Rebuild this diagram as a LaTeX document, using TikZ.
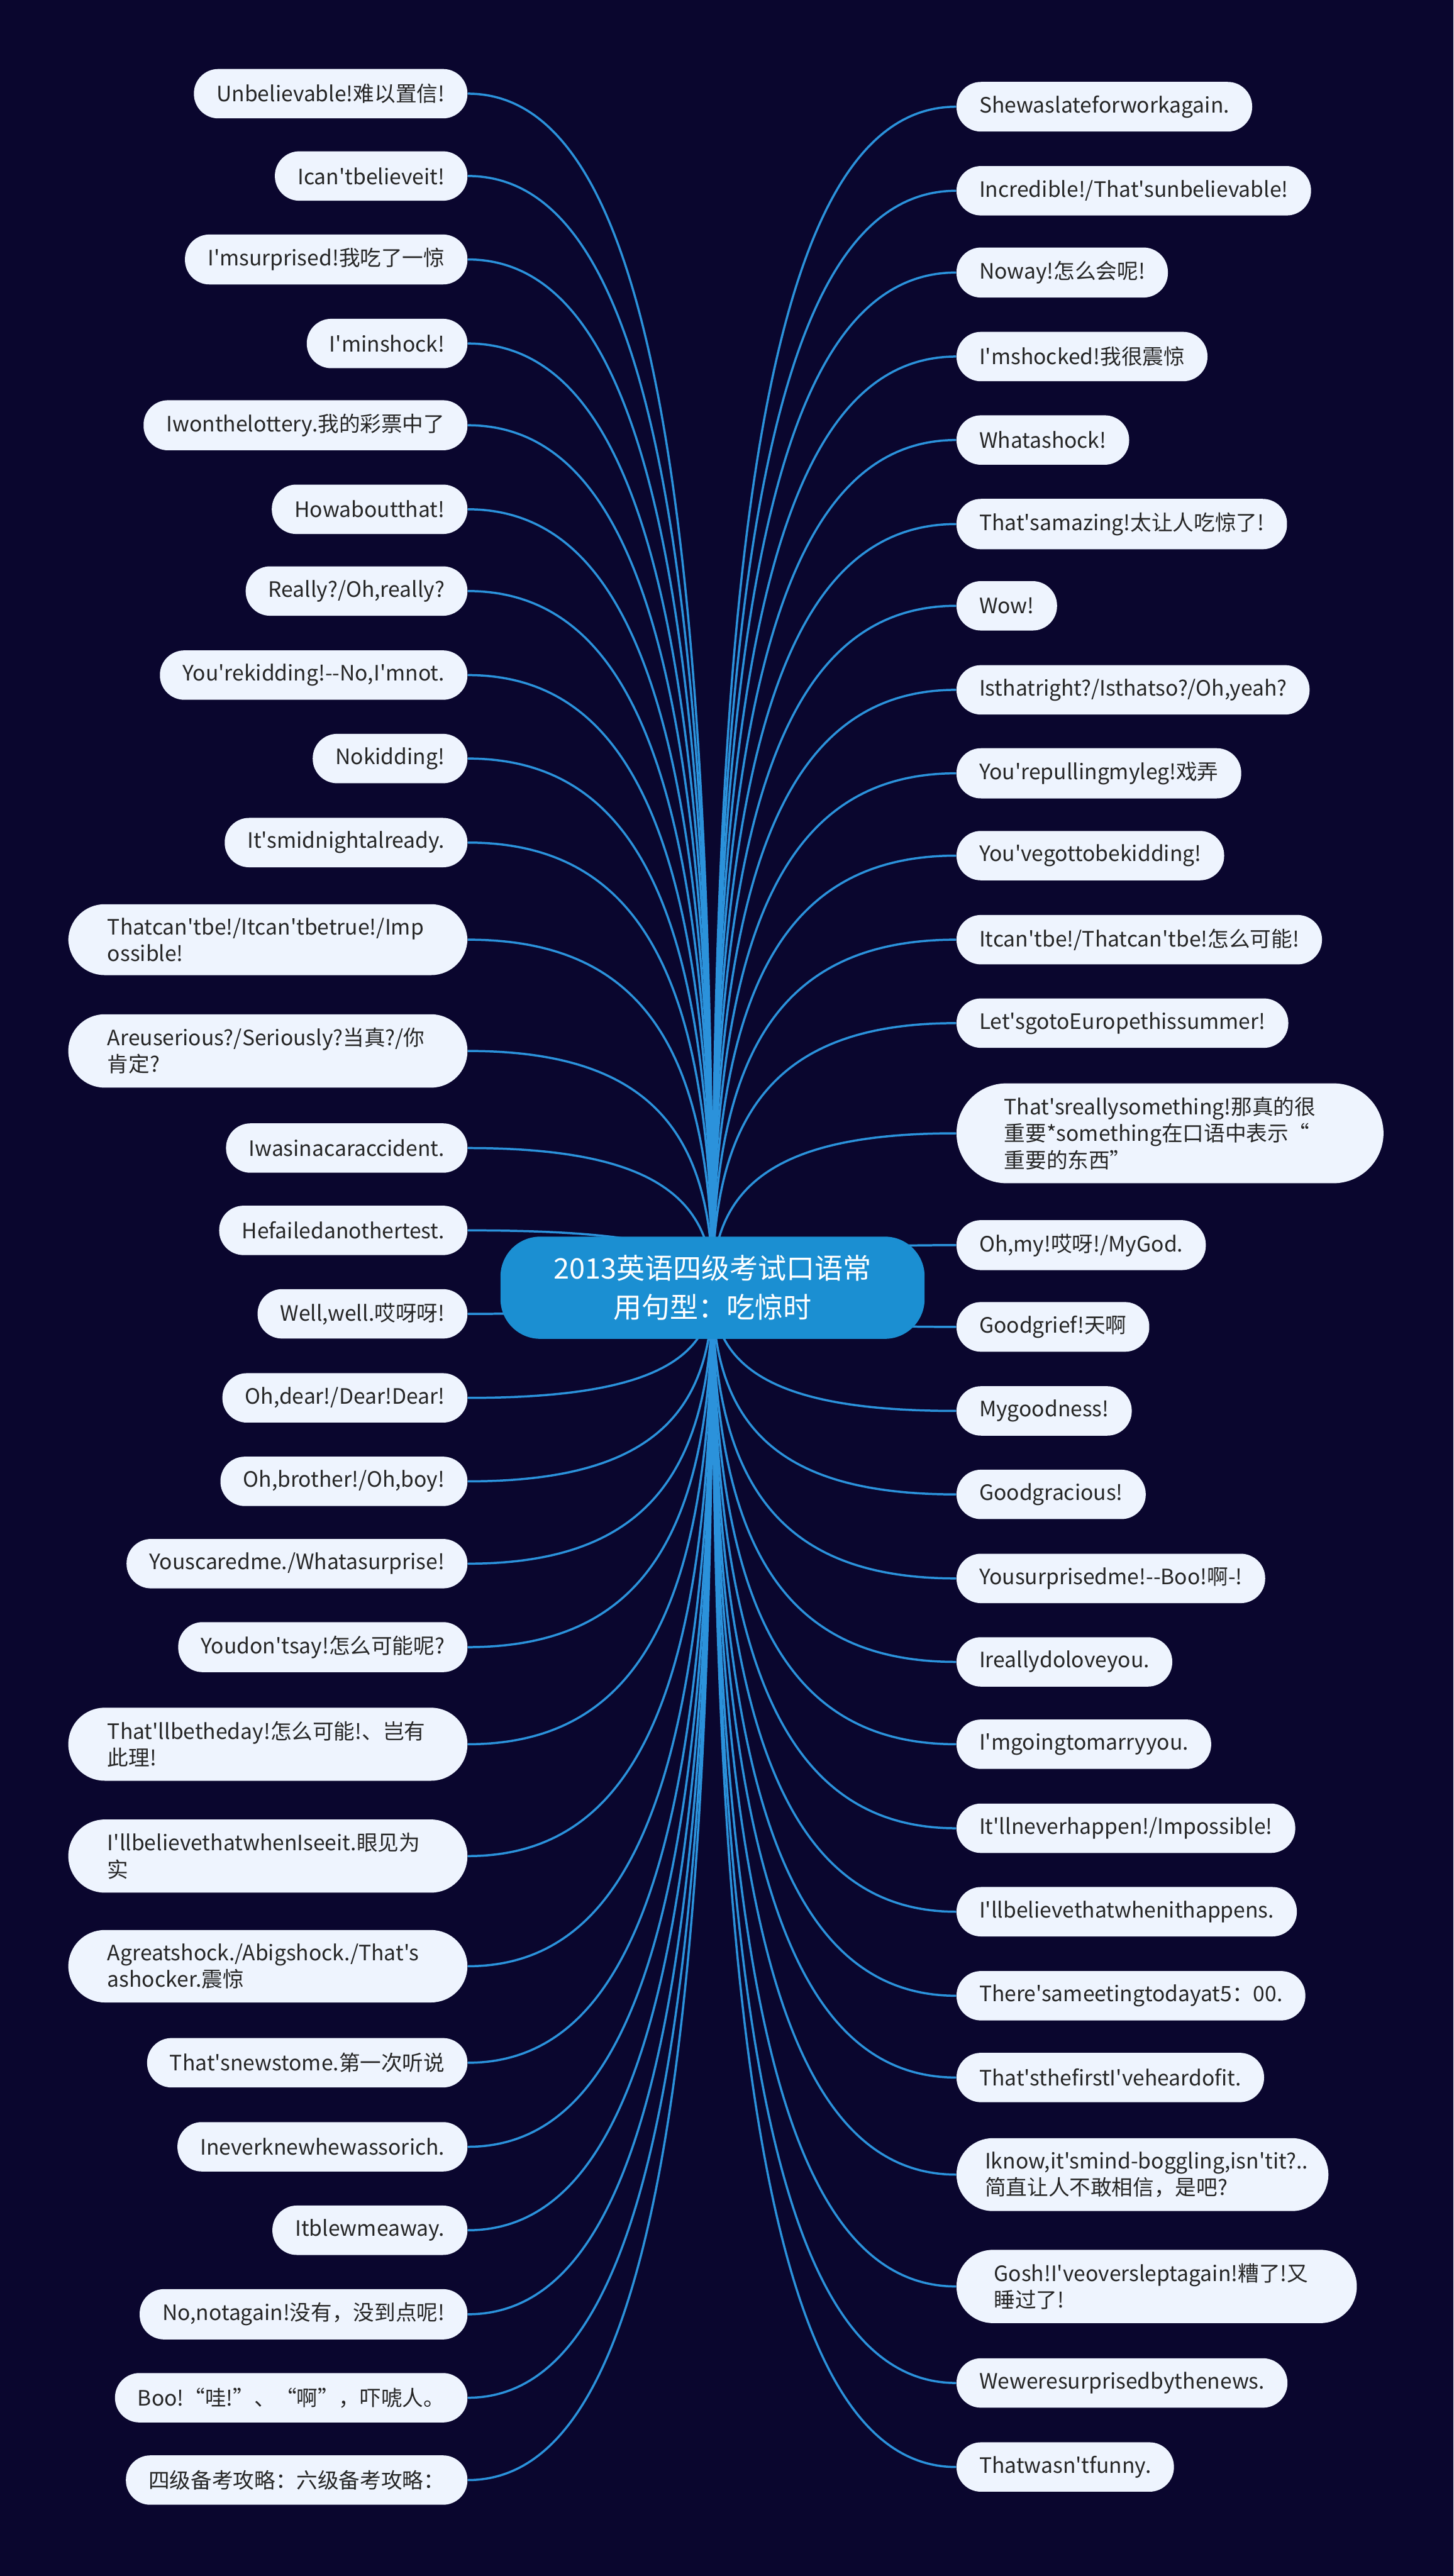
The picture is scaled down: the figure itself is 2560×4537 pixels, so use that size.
\documentclass[tikz,border=0pt]{standalone}
\usepackage{fontspec}
\setmainfont{Noto Sans CJK SC}[Ligatures=TeXOff]
\usetikzlibrary{calc}
\usepackage{xcolor}
\definecolor{nightbg}{RGB}{10, 6, 46}
\definecolor{leaffill}{RGB}{238, 244, 254}
\definecolor{leaftext}{RGB}{38, 38, 38}
\definecolor{rootfill}{RGB}{27, 143, 210}
\definecolor{linkblue}{RGB}{43, 146, 219}

\pgfdeclarelayer{bg}
\pgfdeclarelayer{links}
\pgfsetlayers{bg,links,main}

\begin{document}
\begin{tikzpicture}[x=0.1mm, y=-0.1mm,
    leaf/.style={fill=leaffill, text=leaftext, rounded corners=4.3mm,
        minimum height=8.7mm, inner xsep=4mm, inner ysep=2.4mm,
        font=\fontsize{10.6pt}{13.3pt}\selectfont},
    lleaf/.style={leaf, anchor=east},
    rleaf/.style={leaf, anchor=west},
    wide/.style={text width=#1, align=left, rounded corners=6.4mm},
    link/.style={draw=linkblue, line width=1.1pt}]

    \useasboundingbox (0,0) rectangle (2560,4537);
    \begin{pgfonlayer}{bg}
        \fill[nightbg] (0,0) rectangle (2560,4537);
    \end{pgfonlayer}

    % ==========================================================
    % tema central
    % ==========================================================
    \node[fill=rootfill, text=white, rounded corners=7mm, align=center,
          minimum width=74.7mm, minimum height=18mm,
          font=\fontsize{14.2pt}{19.5pt}\selectfont] (root) at (1255,2268)
         {2013英语四级考试口语常\\用句型：吃惊时};

    % ==========================================================
    % rama izquierda
    % ==========================================================
    \node[lleaf] (L1)  at (824,165)  {Unbelievable!难以置信!};
    \node[lleaf] (L2)  at (824,310)  {Ican'tbelieveit!};
    \node[lleaf] (L3)  at (824,457)  {I'msurprised!我吃了一惊};
    \node[lleaf] (L4)  at (824,605)  {I'minshock!};
    \node[lleaf] (L5)  at (824,749)  {Iwonthelottery.我的彩票中了};
    \node[lleaf] (L6)  at (824,897)  {Howaboutthat!};
    \node[lleaf] (L7)  at (824,1041) {Really?/Oh,really?};
    \node[lleaf] (L8)  at (824,1189) {You'rekidding!--No,I'mnot.};
    \node[lleaf] (L9)  at (824,1336) {Nokidding!};
    \node[lleaf] (L10) at (824,1484) {It'smidnightalready.};
    \node[lleaf, wide=56.5mm, inner xsep=6.9mm] (L11) at (824,1655)
         {Thatcan'tbe!/Itcan'tbetrue!/Imp\\ossible!};
    \node[lleaf, wide=56.5mm, inner xsep=6.9mm] (L12) at (824,1851)
         {Areuserious?/Seriously?当真?/你\\肯定?};
    \node[lleaf] (L13) at (824,2022) {Iwasinacaraccident.};
    \node[lleaf] (L14) at (824,2167) {Hefailedanothertest.};
    \node[lleaf] (L15) at (824,2314) {Well,well.哎呀呀!};
    \node[lleaf] (L16) at (824,2462) {Oh,dear!/Dear!Dear!};
    \node[lleaf] (L17) at (824,2609) {Oh,brother!/Oh,boy!};
    \node[lleaf] (L18) at (824,2754) {Youscaredme./Whatasurprise!};
    \node[lleaf] (L19) at (824,2901) {Youdon'tsay!怎么可能呢?};
    \node[lleaf, wide=56.5mm, inner xsep=6.9mm] (L20) at (824,3072)
         {That'llbetheday!怎么可能!、岂有\\此理!};
    \node[lleaf, wide=56.5mm, inner xsep=6.9mm] (L21) at (824,3269)
         {I'llbelievethatwhenIseeit.眼见为\\实};
    \node[lleaf, wide=56.5mm, inner xsep=6.9mm] (L22) at (824,3463)
         {Agreatshock./Abigshock./That's\\ashocker.震惊};
    \node[lleaf] (L23) at (824,3633) {That'snewstome.第一次听说};
    \node[lleaf] (L24) at (824,3781) {Ineverknewhewassorich.};
    \node[lleaf] (L25) at (824,3928) {Itblewmeaway.};
    \node[lleaf] (L26) at (824,4076) {No,notagain!没有，没到点呢!};
    \node[lleaf] (L27) at (824,4223) {Boo!“哇!”、“啊”，吓唬人。};
    \node[lleaf] (L28) at (824,4368) {四级备考攻略：六级备考攻略：};

    % ==========================================================
    % rama derecha
    % ==========================================================
    \node[rleaf] (R1)  at (1684,188)  {Shewaslateforworkagain.};
    \node[rleaf] (R2)  at (1684,336)  {Incredible!/That'sunbelievable!};
    \node[rleaf] (R3)  at (1684,480)  {Noway!怎么会呢!};
    \node[rleaf] (R4)  at (1684,628)  {I'mshocked!我很震惊};
    \node[rleaf] (R5)  at (1684,775)  {Whatashock!};
    \node[rleaf] (R6)  at (1684,923)  {That'samazing!太让人吃惊了!};
    \node[rleaf] (R7)  at (1684,1067) {Wow!};
    \node[rleaf] (R8)  at (1684,1215) {Isthatright?/Isthatso?/Oh,yeah?};
    \node[rleaf] (R9)  at (1684,1362) {You'repullingmyleg!戏弄};
    \node[rleaf] (R10) at (1684,1507) {You'vegottobekidding!};
    \node[rleaf] (R11) at (1684,1655) {Itcan'tbe!/Thatcan'tbe!怎么可能!};
    \node[rleaf] (R12) at (1684,1802) {Let'sgotoEuropethissummer!};
    \node[rleaf, wide=58.4mm, inner xsep=8.4mm, rounded corners=8.8mm] (R13) at (1684,1996)
         {That'sreallysomething!那真的很\\重要*something在口语中表示“\\重要的东西”};
    \node[rleaf] (R14) at (1684,2193) {Oh,my!哎呀!/MyGod.};
    \node[rleaf] (R15) at (1684,2337) {Goodgrief!天啊};
    \node[rleaf] (R16) at (1684,2485) {Mygoodness!};
    \node[rleaf] (R17) at (1684,2632) {Goodgracious!};
    \node[rleaf] (R18) at (1684,2780) {Yousurprisedme!--Boo!啊-!};
    \node[rleaf] (R19) at (1684,2927) {Ireallydoloveyou.};
    \node[rleaf] (R20) at (1684,3072) {I'mgoingtomarryyou.};
    \node[rleaf] (R21) at (1684,3220) {It'llneverhappen!/Impossible!};
    \node[rleaf] (R22) at (1684,3367) {I'llbelievethatwhenithappens.};
    \node[rleaf] (R23) at (1684,3515) {There'sameetingtodayat5：00.};
    \node[rleaf] (R24) at (1684,3659) {That'sthefirstI'veheardofit.};
    \node[rleaf, wide=55.5mm, inner xsep=5mm] (R25) at (1684,3830)
         {\mbox{Iknow,it'smind-boggling,isn'tit?..}\\简直让人不敢相信，是吧?};
    \node[rleaf, wide=57.3mm, inner xsep=6.6mm] (R26) at (1684,4027)
         {Gosh!I'veoversleptagain!糟了!又\\睡过了!};
    \node[rleaf] (R27) at (1684,4197) {Weweresurprisedbythenews.};
    \node[rleaf] (R28) at (1684,4345) {Thatwasn'tfunny.};

    % ramas, detras de los nodos
    \begin{pgfonlayer}{links}
        \foreach \side/\anc in {L/east, R/west} {
            \foreach \i in {1,...,28} {
                \draw[link] (root.center)
                    .. controls ($(root.center)!0.7!(root.center |- \side\i.\anc)$)
                    and ($(\side\i.\anc)!0.7!(\side\i.\anc -| root.center)$)
                    .. (\side\i.\anc);
            }
        }
    \end{pgfonlayer}

\end{tikzpicture}
\end{document}
